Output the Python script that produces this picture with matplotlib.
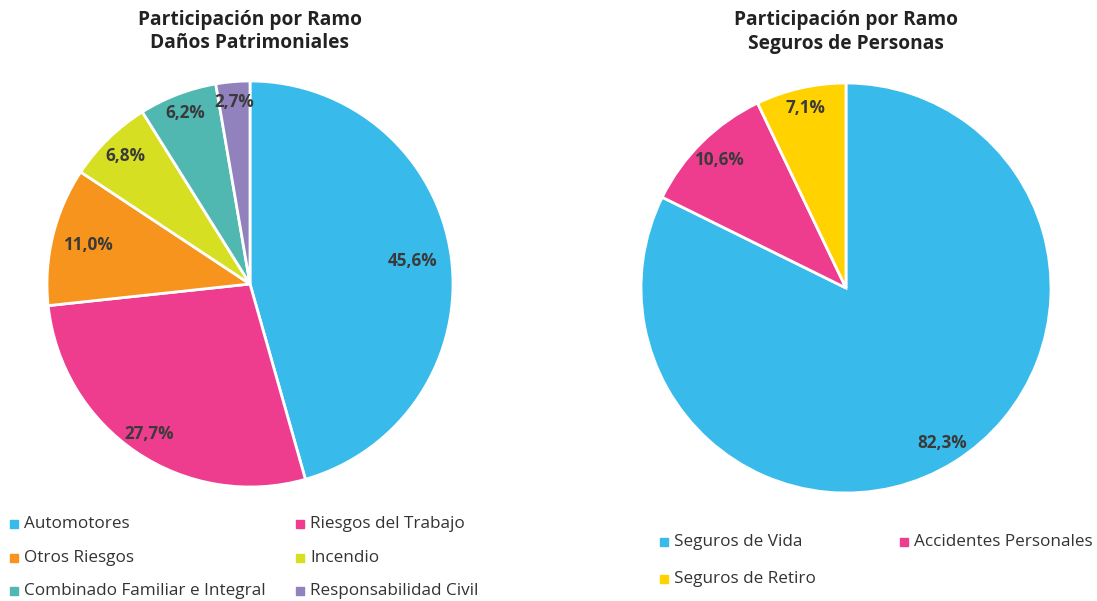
import matplotlib.pyplot as plt
from matplotlib.lines import Line2D

plt.rcParams['font.family'] = ['Open Sans', 'DejaVu Sans']

# Daños Patrimoniales
danos_labels = ['Automotores', 'Riesgos del Trabajo', 'Otros Riesgos', 'Incendio',
                'Combinado Familiar e Integral', 'Responsabilidad Civil']
danos_values = [45.6, 27.7, 11.0, 6.8, 6.2, 2.7]
danos_colors = ['#38BBEB', '#EE3D8F', '#F7941D', '#D7DF23', '#50B8B1', '#9181BD']

# Seguros de Personas
pers_labels = ['Seguros de Vida', 'Accidentes Personales', 'Seguros de Retiro']
pers_values = [82.3, 10.6, 7.1]
pers_colors = ['#38BBEB', '#EE3D8F', '#FFD200']

W, H = 1097, 601
fig = plt.figure(figsize=(W / 100, H / 100), dpi=100)


def pct(v):
    return f'{v:.1f}%'.replace('.', ',')


def draw_pie(rect, values, colors, title, title_x, label_r):
    ax = fig.add_axes(rect)
    wedges, _, autotexts = ax.pie(values, colors=colors, startangle=90, counterclock=False,
                                  autopct=lambda p: pct(p), pctdistance=1.0,
                                  wedgeprops=dict(edgecolor='white', linewidth=2))
    for t, r in zip(autotexts, label_r):
        x, y = t.get_position()
        t.set_position((x * r, y * r))
        t.set_color('#3a3a3a')
        t.set_fontsize(12.3)
        t.set_fontweight('bold')
    ax.set_xlim(-1, 1)
    ax.set_ylim(-1, 1)
    ax.set_aspect('equal')
    fig.text(title_x / W, 1 - 32 / H, title, ha='center', va='center',
             fontsize=13.8, fontweight='bold', color='#222222', linespacing=1.2)
    return ax


draw_pie([47 / W, 114 / H, 406 / W, 406 / H], danos_values, danos_colors,
         'Participación por Ramo\nDaños Patrimoniales', 250,
         [0.81, 0.89, 0.82, 0.88, 0.90, 0.90])
draw_pie([641 / W, 108 / H, 410 / W, 410 / H], pers_values, pers_colors,
         'Participación por Ramo\nSeguros de Personas', 846,
         [0.89, 0.88, 0.90])


def legend(labels, colors, x0, x1, y0, dy):
    for i, (lab, c) in enumerate(zip(labels, colors)):
        x = x0 if i % 2 == 0 else x1
        y = y0 + dy * (i // 2)
        fig.add_artist(Line2D([(x + 4) / W], [1 - y / H], marker='s', markersize=5.5,
                              color=c, linestyle='none', transform=fig.transFigure))
        fig.text((x + 14) / W, 1 - y / H, lab, ha='left', va='center',
                 fontsize=12.3, color='#333333')


legend(danos_labels, danos_colors, 10, 296, 524, 33.5)
legend(pers_labels, pers_colors, 660, 900, 542, 37)

fig.savefig('out.png', dpi=100)
